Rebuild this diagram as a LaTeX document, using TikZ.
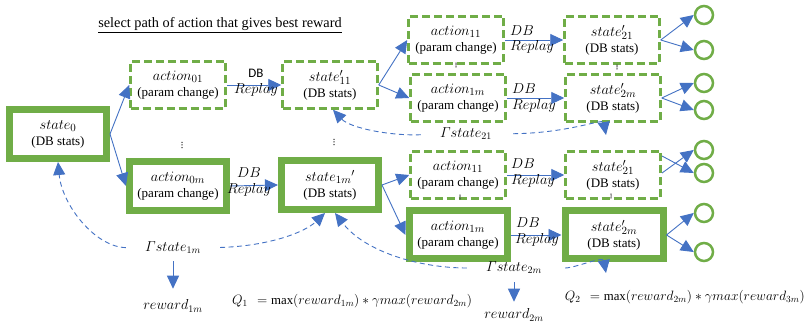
\documentclass[tikz,border=0pt]{standalone}
\usepackage{graphicx}
\usepackage{fontspec}
\setmainfont{Liberation Serif}
\newfontfamily\calib{Carlito}
\usetikzlibrary{arrows.meta}
\definecolor{grn}{HTML}{70AD47}
\definecolor{blu}{HTML}{4472C4}
\DeclareMathSymbol{\itGamma}{\mathalpha}{letters}{"00}
\newcommand\mth[1]{{\fontsize{15}{16}\selectfont$#1$}}
\newcommand\mtg[1]{{\fontsize{14}{16}\selectfont$#1$}}
\begin{document}
\begin{tikzpicture}[x=1pt,y=-1pt,
  every node/.style={font=\fontsize{13}{16}\selectfont},
  thickbox/.style={draw=grn, line width=7pt, fill=white, minimum width=97pt, minimum height=49pt, inner sep=0pt, align=center},
  dashbox/.style={draw=grn, line width=2.5pt, dash pattern=on 8pt off 4pt, fill=white, minimum width=95pt, minimum height=47pt, inner sep=0pt, align=center},
  leaf/.style={circle, draw=grn, line width=2.5pt, minimum size=18pt, inner sep=0pt},
  arr/.style={draw=blu, line width=0.9pt, -{Triangle[length=13pt,width=12pt]}},
  darr/.style={arr, dash pattern=on 5pt off 3.5pt},
  lbl/.style={inner sep=1pt},
  dot/.style={fill=black!80},
]
\path[use as bounding box, fill=white] (0,0) rectangle (807,328);

\node[font=\fontsize{14.3}{16}\selectfont] (title) at (220,25) {\underline{select path of action that gives best reward}};

% boxes
\node[thickbox] (s0)  at (58,134)  {\mth{state_0}\\(DB stats)};
\node[dashbox]  (a01) at (178,85)  {\mth{action_{01}}\\(param change)};
\node[dashbox]  (s11) at (330,85)  {\mth{state'_{11}}\\(DB stats)};
\node[thickbox] (a0m) at (178,186) {\mth{action_{0m}}\\(param change)};
\node[thickbox] (s1m) at (330,185) {\mth{state_{1m}{}'}\\(DB stats)};

\node[dashbox]  (a11t) at (456,40)  {\mth{action_{11}}\\(param change)};
\node[dashbox]  (s21t) at (612,40)  {\mth{state'_{21}}\\(DB stats)};
\node[dashbox]  (a1mt) at (458,98)  {\mth{action_{1m}}\\(param change)};
\node[dashbox]  (s2mt) at (613,98)  {\mth{state'_{2m}}\\(DB stats)};
\node[dashbox]  (a11b) at (458,175) {\mth{action_{11}}\\(param change)};
\node[dashbox]  (s21b) at (613,175) {\mth{state'_{21}}\\(DB stats)};
\node[thickbox, minimum width=98pt, minimum height=48pt] (a1mb) at (458,235) {\mth{action_{1m}}\\(param change)};
\node[thickbox, minimum width=98pt, minimum height=48pt] (s2mb) at (614,235) {\mth{state'_{2m}}\\(DB stats)};

% dots
\foreach \x/\y/\s in {182/145/2.6, 334/142/2.6, 456/65/1.8, 617/67/1.8, 460/197/1.8, 611/196/1.8}{
  \fill[dot] (\x,\y-\s) circle (0.75);
  \fill[dot] (\x,\y) circle (0.75);
  \fill[dot] (\x,\y+\s) circle (0.75);
}

% leaves
\node[leaf] (c1) at (704,15)  {};
\node[leaf] (c2) at (704,50)  {};
\node[leaf] (c3) at (704,83)  {};
\node[leaf] (c4) at (704,110) {};
\node[leaf] (c5) at (704,150) {};
\node[leaf] (c6) at (704,173) {};
\node[leaf] (c7) at (704,213) {};
\node[leaf] (c8) at (704,252) {};

% solid arrows
\draw[arr] (s0.east) -- (a01.west);
\draw[arr] (s0.east) -- (a0m.west);
\draw[arr] (a01.east) -- (s11.west);
\draw[arr] (a0m.east) -- (s1m.west);
\draw[arr] (s11.east) -- (a11t.west);
\draw[arr] (s11.east) -- (a1mt.west);
\draw[arr] (s1m.east) -- (a11b.west);
\draw[arr] (s1m.east) -- (a1mb.west);
\draw[arr] (a11t.east) -- (s21t.west);
\draw[arr] (a1mt.east) -- (s2mt.west);
\draw[arr] (a11b.east) -- (s21b.west);
\draw[arr] (a1mb.east) -- (s2mb.west);

\draw[arr] (s21t.east) -- (c1.west);
\draw[arr] (s21t.east) -- (c2.west);
\draw[arr] (s2mt.east) -- (c3.west);
\draw[arr] (s2mt.east) -- (c4.west);
\coordinate (x5a) at (662,156);
\coordinate (x5b) at (662,173);
\draw[arr] (x5a) -- (c6.west);
\draw[arr] (x5b) -- (c5.west);
\draw[arr] (s2mb.east) -- (c7.west);
\draw[arr] (s2mb.east) -- (c8.west);

% DB Replay labels
\node[lbl] (db1) at (256,73) {\calib DB};
\node[lbl] (rp1) at (256,90) {\mth{Replay}};
\node[lbl] (db2) at (249,173) {\mth{DB}};
\node[lbl] (rp2) at (249,190) {\mth{Replay}};
\node[lbl] (db3) at (522,31) {\mth{DB}};
\node[lbl] (rp3) at (532,47) {\mth{Replay}};
\node[lbl] (db4) at (524,89) {\mth{DB}};
\node[lbl] (rp4) at (534,106) {\mth{Replay}};
\node[lbl] (db5) at (523,164) {\mth{DB}};
\node[lbl] (rp5) at (533,181) {\mth{Replay}};
\node[lbl] (db6) at (528,223) {\mth{DB}};
\node[lbl] (rp6) at (537,240) {\mth{Replay}};

% Gamma labels
\node[lbl] (g1m) at (173,248) {\mtg{\itGamma state_{1m}}};
\node[lbl] (g21) at (466,134) {\mtg{\itGamma state_{21}}};
\node[lbl] (g2m) at (514,268) {\mtg{\itGamma state_{2m}}};

% dashed feedback arrows
\draw[darr, shorten <=18pt] (g1m.west) .. controls (95,247) and (62,205) .. (s0.south);
\draw[darr, shorten <=18pt] (g1m.east) .. controls (270,246) and (305,232) .. ([xshift=-5pt]s1m.south);
\draw[darr, shorten <=18pt] (g2m.west) .. controls (420,268) and (365,252) .. ([xshift=5pt]s1m.south);
\draw[darr, shorten <=18pt] (g21.west) .. controls (390,136) and (350,128) .. ([xshift=3pt]s11.south);
\draw[darr, shorten <=20pt] (g21.east) .. controls (570,133) and (603,118) .. (606,135);
\draw[darr, shorten <=22pt] (g2m.east) .. controls (575,268) and (603,256) .. (606,273);

% rewards
\node[lbl] (r1m) at (173,306) {\mtg{reward_{1m}}};
\node[lbl] (r2m) at (514,315) {\mtg{reward_{2m}}};
\draw[arr, shorten <=6pt, shorten >=10pt] (g1m.south) -- (r1m.north);
\draw[arr, shorten <=7pt, shorten >=6pt] (g2m.south) -- (r2m.north);

% Q formulas
\node[lbl, anchor=west] (q1) at (231,301) {\scalebox{0.94}{\fontsize{13.6}{16}\selectfont$Q_1\ \, = \max(reward_{1m}) * \gamma max(reward_{2m})$}};
\node[lbl, anchor=east] (q2) at (806,297) {\scalebox{0.94}{\fontsize{13.6}{16}\selectfont$Q_2\ \, = \max(reward_{2m}) * \gamma max(reward_{3m})$}};
\end{tikzpicture}
\end{document}
